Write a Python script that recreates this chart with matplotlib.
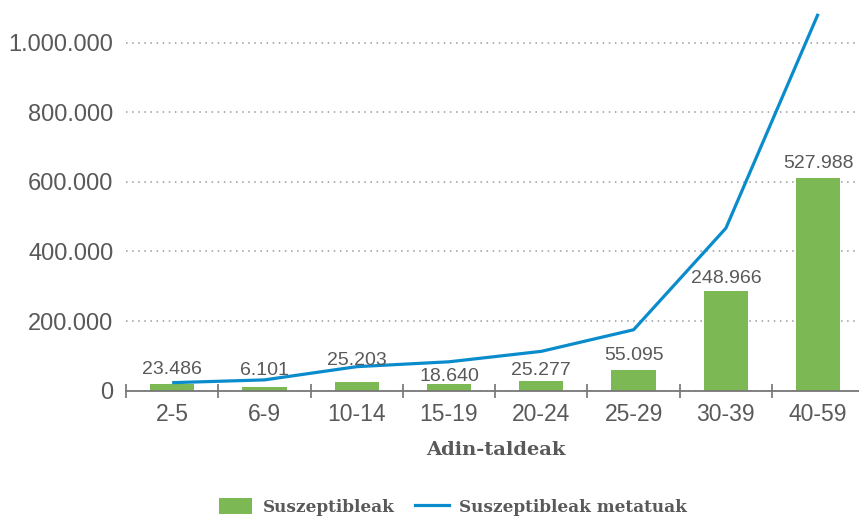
import matplotlib.pyplot as plt
from matplotlib.ticker import FuncFormatter
from matplotlib.patches import Patch
from matplotlib.lines import Line2D

# Data
age_groups = ['2-5', '6-9', '10-14', '15-19', '20-24', '25-29', '30-39', '40-59']
bar_heights = [20000, 11000, 25000, 20000, 28000, 60000, 287000, 611000]
bar_labels = ['23.486', '6.101', '25.203', '18.640', '25.277', '55.095', '248.966', '527.988']
line_values = [23000, 31000, 69000, 83000, 113000, 175000, 467000, 1083000]

# vertical gap (points) between each bar and its label, as placed in the original
label_offsets = [4.3, 5.8, 9.4, -0.7, 1.4, 4.3, 2.9, 4.3]

green = '#7cb955'
blue = '#0a8ccc'
grey = '#595959'

plt.rcParams['font.family'] = ['Liberation Sans', 'DejaVu Sans']

fig = plt.figure(figsize=(8.59, 5.18), dpi=100)
ax = fig.add_axes([0.1467, 0.2458, 0.8595, 0.739])

x = list(range(len(age_groups)))
ax.bar(x, bar_heights, width=0.48, color=green, zorder=2)
ax.plot(x, line_values, color=blue, linewidth=2.3, zorder=3, solid_capstyle='butt')

# value labels above bars
for xi, h, lab, off in zip(x, bar_heights, bar_labels, label_offsets):
    ax.annotate(lab, (xi, h), xytext=(0, off), textcoords='offset points',
                ha='center', va='bottom', fontsize=14, color=grey, zorder=4)

ax.set_xlim(-0.5, len(age_groups) - 0.5)
ax.set_ylim(0, 1100000)
ax.set_yticks([0, 200000, 400000, 600000, 800000, 1000000])
ax.yaxis.set_major_formatter(FuncFormatter(lambda v, p: f'{int(v):,}'.replace(',', '.')))
ax.grid(axis='y', linestyle=(0, (1, 3)), color='#9a9a9a', linewidth=1.1, zorder=0)

ax.set_xticks(x)
ax.set_xticklabels(age_groups)
ax.set_xticks([i - 0.5 for i in range(len(age_groups))], minor=True)
ax.tick_params(axis='x', which='major', length=0, pad=9, labelsize=16.5, labelcolor=grey)
ax.tick_params(axis='x', which='minor', length=10, direction='inout', width=1.1, color='#666666')
ax.tick_params(axis='y', length=0, pad=9, labelsize=17, labelcolor=grey)

for s in ['top', 'right', 'left']:
    ax.spines[s].set_visible(False)
ax.spines['bottom'].set_color('#777777')
ax.spines['bottom'].set_linewidth(1.3)

fig.text(0.577, 0.131, 'Adin-taldeak', ha='center', va='center',
         fontsize=14, fontweight='bold', color=grey, family='DejaVu Serif')

handles = [Patch(facecolor=green), Line2D([0], [0], color=blue, linewidth=2.3)]
leg = fig.legend(handles, ['Suszeptibleak', 'Suszeptibleak metatuak'],
                 loc='center', bbox_to_anchor=(0.527, 0.021), ncol=2, frameon=False,
                 prop={'family': 'DejaVu Serif', 'weight': 'bold', 'size': 12.2},
                 handlelength=2.0, handleheight=1.0, columnspacing=1.2, handletextpad=0.6)
for t in leg.get_texts():
    t.set_color(grey)

fig.savefig('out.png', dpi=100)
